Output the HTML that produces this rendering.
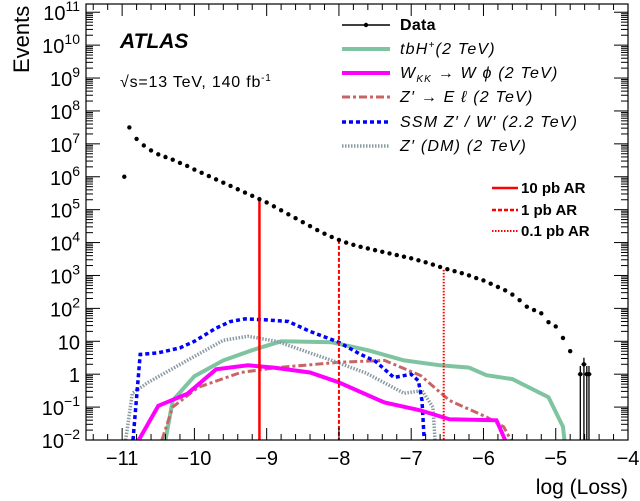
<!DOCTYPE html>
<html><head><meta charset="utf-8"><style>
body{margin:0;background:#fff;}
svg{display:block;font-family:"Liberation Sans",sans-serif;}
</style></head><body>
<svg id="chart" width="640" height="501" viewBox="0 0 640 501" xmlns="http://www.w3.org/2000/svg">
<g id="marks"></g>
<g id="axes"></g>
<text transform="translate(29,73) rotate(-90)" font-size="22" fill="#000">Events</text>
<text x="628" y="494" text-anchor="end" font-size="21">log (Loss)</text>
<text x="120" y="48" font-size="21" font-weight="bold" font-style="italic">ATLAS</text>
<text x="120" y="87" font-size="16" letter-spacing="0.8">√s=13 TeV,  140 fb<tspan dy="-6" font-size="10">-1</tspan></text>
<g font-size="16" font-style="italic" letter-spacing="1.2">
 <g><line x1="342" y1="25" x2="390" y2="25" stroke="#000" stroke-width="1.5"/><circle cx="366" cy="25" r="2.2"/><text x="400" y="30" font-style="normal" font-weight="bold" letter-spacing="0.3">Data</text></g>
 <g><line x1="342" y1="49" x2="390" y2="49" stroke="#7fc4a0" stroke-width="4"/><text x="400" y="54">tbH<tspan dy="-6" font-size="10">+</tspan><tspan dy="6">(2 TeV)</tspan></text></g>
 <g><line x1="342" y1="73" x2="390" y2="73" stroke="#ff00ff" stroke-width="4"/><text x="400" y="78">W<tspan dy="4" font-size="10">KK</tspan><tspan dy="-4"> → W ϕ (2 TeV)</tspan></text></g>
 <g><line x1="342" y1="97" x2="390" y2="97" stroke="#c86464" stroke-width="3" stroke-dasharray="8,3,3,3"/><text x="400" y="102">Z′ → E ℓ (2 TeV)</text></g>
 <g><line x1="342" y1="122" x2="390" y2="122" stroke="#0000ff" stroke-width="3.5" stroke-dasharray="4,3"/><text x="400" y="127">SSM Z′ / W′ (2.2 TeV)</text></g>
 <g><line x1="342" y1="146" x2="390" y2="146" stroke="#8a9ba4" stroke-width="3.5" stroke-dasharray="1.5,1.5"/><text x="400" y="151">Z′ (DM) (2 TeV)</text></g>
</g>
<g font-size="15" font-weight="bold">
 <g><line x1="492" y1="188" x2="518" y2="188" stroke="#ff0000" stroke-width="2.5"/><text x="521" y="193">10 pb AR</text></g>
 <g><line x1="492" y1="210" x2="518" y2="210" stroke="#ff0000" stroke-width="2.5" stroke-dasharray="4,2"/><text x="521" y="215">1 pb AR</text></g>
 <g><line x1="492" y1="231" x2="518" y2="231" stroke="#ff0000" stroke-width="2" stroke-dasharray="1.5,1.5"/><text x="521" y="236">0.1 pb AR</text></g>
</g>
</svg>
<script>
// data (log10 of events)
const dataX=[-10.97,-10.9,-10.8,-10.7,-10.6,-10.5,-10.4,-10.3,-10.2,-10.1,-10.0,-9.9,-9.8,-9.7,-9.6,-9.5,-9.4,-9.3,-9.2,-9.1,-9.0,-8.9,-8.8,-8.7,-8.6,-8.5,-8.4,-8.3,-8.2,-8.1,-8.0,-7.9,-7.8,-7.7,-7.6,-7.5,-7.4,-7.3,-7.2,-7.1,-7.0,-6.9,-6.8,-6.7,-6.6,-6.5,-6.4,-6.3,-6.2,-6.1,-6.0,-5.9,-5.8,-5.7,-5.6,-5.5,-5.4,-5.3,-5.2,-5.1,-5.0,-4.9,-4.8];
const dataLogY=[6.0,7.5,7.15,6.95,6.8,6.68,6.6,6.52,6.42,6.33,6.22,6.12,6.02,5.92,5.82,5.72,5.62,5.52,5.42,5.32,5.22,5.1,4.98,4.86,4.74,4.62,4.5,4.38,4.27,4.17,4.08,4.0,3.93,3.87,3.82,3.77,3.72,3.67,3.62,3.57,3.52,3.46,3.4,3.33,3.26,3.19,3.13,3.07,3.0,2.92,2.85,2.75,2.65,2.55,2.42,2.25,2.05,1.95,1.85,1.58,1.45,1.1,0.7];
const tailX=[-4.66,-4.61,-4.57,-4.54];
const tailLogY=[0,0.3,0,0];
const tailErrTop=[0.25,0.5,0.25,0.25];
// signals
const tbhX=[-10.4,-10.3,-10.0,-9.6,-9.2,-8.8,-8.1,-7.6,-7.1,-6.6,-6.2,-5.96,-5.6,-5.1,-4.9,-4.88];
const tbhLogY=[-2,-0.8,-0.06,0.42,0.73,1.0,0.97,0.73,0.42,0.27,0.2,-0.03,-0.15,-0.7,-1.6,-2];
const wkkX=[-10.77,-10.5,-10.1,-9.7,-9.26,-8.9,-8.4,-8.0,-7.37,-6.87,-6.47,-5.82,-5.7];
const wkkLogY=[-2,-0.96,-0.6,0.15,0.27,0.2,0.05,-0.25,-0.86,-1.1,-1.37,-1.4,-2];
const zelX=[-10.45,-10.3,-9.95,-9.36,-8.86,-8.0,-7.37,-6.87,-6.47,-5.96,-5.72,-5.62];
const zelLogY=[-2,-1.0,-0.4,0.05,0.2,0.36,0.42,-0.04,-0.8,-1.3,-1.6,-2];
const ssmX=[-10.85,-10.75,-10.5,-10.2,-10.0,-9.7,-9.5,-9.3,-9.0,-8.7,-8.4,-8.0,-7.7,-7.5,-7.24,-7.0,-6.9,-6.85,-6.82];
const ssmLogY=[-2,0.6,0.65,0.8,1.0,1.4,1.6,1.68,1.65,1.6,1.3,0.97,0.6,0.4,-0.1,0.0,-0.2,-0.8,-2];
const dmX=[-10.95,-10.86,-10.64,-10.1,-9.6,-9.26,-8.86,-8.6,-8.1,-7.62,-7.1,-6.85,-6.7,-6.67];
const dmLogY=[-2,-0.58,-0.25,0.42,1.03,1.15,1.0,0.8,0.42,0.03,-0.58,-0.5,-1.0,-2];
const arX=[-9.1,-8.0,-6.55];
const arTopLogY=[5.3,4.08,3.17];
const xTicks=[-11,-10,-9,-8,-7,-6,-5,-4];
const yTicks=[-2,-1,0,1,2,3,4,5,6,7,8,9,10,11];

const L=86,R=628,T=4,B=440;
const xMin=-11.5,xMax=-4, yMin=-2, yMax=11.25;
const X=v=>L+(v-xMin)/(xMax-xMin)*(R-L);
const Y=v=>B-(v-yMin)/(yMax-yMin)*(B-T);
const NS="http://www.w3.org/2000/svg";
const marks=document.getElementById('marks'), axes=document.getElementById('axes');
function mk(tag,attrs,parent){const e=document.createElementNS(NS,tag);for(const k in attrs)e.setAttribute(k,attrs[k]);parent.appendChild(e);return e;}
function clampY(v){return Math.max(yMin,v);}

function series(xs,ys,name,stroke,w,dash){
  const d=xs.map((x,i)=>(i?'L':'M')+X(x).toFixed(1)+','+Y(clampY(ys[i])).toFixed(1)).join('');
  const p=mk('path',{d:d,fill:'none',stroke:stroke,'stroke-width':w},marks);
  if(dash)p.setAttribute('stroke-dasharray',dash);
  
  
}
series(tbhX,tbhLogY,'tbh-curve','#7fc4a0',4,null);
series(zelX,zelLogY,'zprime-el-curve','#c86464',3,'8,3,3,3');
series(dmX,dmLogY,'zprime-dm-curve','#8a9ba4',3.5,'1.5,1.5');
series(ssmX,ssmLogY,'ssm-curve','#0000ff',3.5,'4,3');
series(wkkX,wkkLogY,'wkk-curve','#ff00ff',4,null);

const arDash=[null,'4,2','1.5,1.5'];
arX.forEach((x,i)=>{
  const l=mk('line',{x1:X(x),x2:X(x),y1:Y(arTopLogY[i]),y2:B,stroke:'#ff0000','stroke-width':i==0?2.5:2},marks);
  if(arDash[i])l.setAttribute('stroke-dasharray',arDash[i]);
  
  
});

dataX.forEach((x,i)=>{
  const c=mk('circle',{cx:X(x),cy:Y(dataLogY[i]),r:2.2,fill:'#000'},marks);
  
  
});
tailX.forEach((x,i)=>{
  const g=mk('g',{},marks);
  
  
  mk('line',{x1:X(x),x2:X(x),y1:Y(tailErrTop[i]),y2:B,stroke:'#000','stroke-width':1.3},g);
  mk('line',{x1:X(x)-2.5,x2:X(x)+2.5,y1:Y(tailLogY[i]),y2:Y(tailLogY[i]),stroke:'#000','stroke-width':1.3},g);
  mk('circle',{cx:X(x),cy:Y(tailLogY[i]),r:2.2,fill:'#000'},g);
});

// frame
const fr=mk('rect',{x:L,y:T,width:R-L,height:B-T,fill:'none',stroke:'#000','stroke-width':1.2},axes);


// x ticks
for(let v=-11.4;v<=-4.01;v+=0.2){
  const vv=Math.round(v*10)/10;const major=Math.abs(vv-Math.round(vv))<1e-6;const len=major?12:6;
  mk('line',{x1:X(vv),x2:X(vv),y1:B,y2:B-len,stroke:'#000'},axes);
  mk('line',{x1:X(vv),x2:X(vv),y1:T,y2:T+len,stroke:'#000'},axes);
}
xTicks.forEach(t=>{
  const tx=mk('text',{x:X(t),y:B+25,'text-anchor':'middle','font-size':20},axes);
  tx.textContent='\u2212'+Math.abs(t);
  
  
});
// y ticks
for(let d=yMin;d<=11;d++){
  for(let m=1;m<10;m++){
    const lv=d+Math.log10(m); if(lv>yMax)break;
    const len=m==1?14:7;
    mk('line',{x1:L,x2:L+len,y1:Y(lv),y2:Y(lv),stroke:'#000'},axes);
    mk('line',{x1:R,x2:R-len,y1:Y(lv),y2:Y(lv),stroke:'#000'},axes);
  }
}
yTicks.forEach(t=>{
  const tx=mk('text',{x:80,y:Y(t)+8,'text-anchor':'end','font-size':20},axes);
  
  
  if(t===0)tx.textContent='1';
  else if(t===1)tx.textContent='10';
  else{tx.textContent='10';const s=mk('tspan',{dy:-9,'font-size':14},tx);s.textContent=(t<0?'\u2212':'')+Math.abs(t);}
});
</script>
</body></html>
